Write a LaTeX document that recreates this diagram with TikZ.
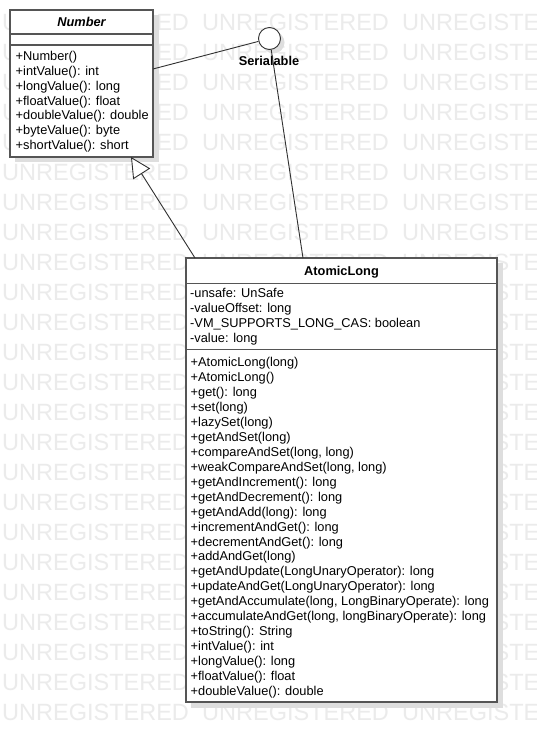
\documentclass[tikz,border=0pt]{standalone}
\usepackage{fontspec}
\setmainfont{Liberation Sans}
\usetikzlibrary{arrows.meta,calc}
\definecolor{wm}{HTML}{EBEBEB}
\definecolor{bord}{HTML}{555555}
\definecolor{shad}{HTML}{DEDEDE}
\definecolor{lnk}{HTML}{303030}
\newcommand\umlfont{\fontsize{12.8}{15}\selectfont}
\begin{document}
\begin{tikzpicture}[x=1pt,y=-1pt,
  wmark/.style={anchor=base west, inner sep=0pt, text=wm, font=\fontsize{23.5}{26}\selectfont},
  classbox/.style={draw=bord, line width=1.5pt, fill=white, rectangle, inner sep=0pt, outer sep=0pt, anchor=north west},
  sepline/.style={draw=bord, line width=1.5pt},
  member/.style={anchor=base west, inner sep=0pt, font=\umlfont},
  cname/.style={anchor=base, inner sep=0pt, font=\umlfont\bfseries},
  conn/.style={draw=lnk, line width=0.9pt},
  gen/.style={conn, -{Triangle[open, length=20pt, width=20pt, fill=white]}}
]
\useasboundingbox (0,0) rectangle (536,743);
% watermark
\begin{scope}
  \clip (0,0) rectangle (536,743);
  \fill[white] (0,0) rectangle (536,743);
  \foreach \k in {0,...,23}
    \foreach \xx in {2,202,402}
      \node[wmark] (w-\k-\xx) at (\xx, 31+29.96*\k) {UNREGISTERED};
\end{scope}
% shadows
\fill[shad] (15,15) rectangle (158.5,162);
\fill[shad] (191,263) rectangle (502.5,707.5);
\fill[shad] (273.5,42.5) circle (11pt);
% Number class
\node[classbox, minimum width=143pt, minimum height=147pt] (number) at (10,10) {};
\draw[sepline] (number.west |- 0,34) -- (number.east |- 0,34);
\draw[sepline] (number.west |- 0,45) -- (number.east |- 0,45);
\node[cname, font=\umlfont\bfseries\itshape] (numname) at (81.5,26.7) {Number};
\foreach \t [count=\i from 0] in {{+Number()},{+intValue(): int},{+longValue(): long},{+floatValue(): float},{+doubleValue(): double},{+byteValue(): byte},{+shortValue(): short}}
  \node[member] (nm\i) at (15.5, 61+14.67*\i) {\t};
% AtomicLong class
\node[classbox, minimum width=311pt, minimum height=444pt] (atomic) at (186,258) {};
\draw[sepline] (atomic.west |- 0,283.3) -- (atomic.east |- 0,283.3);
\draw[sepline] (atomic.west |- 0,349.3) -- (atomic.east |- 0,349.3);
\node[cname] (atname) at (341.5,275) {AtomicLong};
\foreach \t [count=\i from 0] in {{-unsafe: UnSafe},{-valueOffset: long},{-VM\_SUPPORTS\_LONG\_CAS: boolean},{-value: long}}
  \node[member] (aa\i) at (190, 297.5+15*\i) {\t};
\foreach \t [count=\i from 0] in {{+AtomicLong(long)},{+AtomicLong()},{+get(): long},{+set(long)},{+lazySet(long)},{+getAndSet(long)},{+compareAndSet(long, long)},{+weakCompareAndSet(long, long)},{+getAndIncrement(): long},{+getAndDecrement(): long},{+getAndAdd(long): long},{+incrementAndGet(): long},{+decrementAndGet(): long},{+addAndGet(long)},{+getAndUpdate(LongUnaryOperator): long},{+updateAndGet(LongUnaryOperator): long},{+getAndAccumulate(long, LongBinaryOperate): long},{+accumulateAndGet(long, longBinaryOperate): long},{+toString(): String},{+intValue(): int},{+longValue(): long},{+floatValue(): float},{+doubleValue(): double}}
  \node[member] (am\i) at (190.5, 366.5+14.96*\i) {\t};
% Serialable interface
\node[circle, draw=lnk, line width=0.9pt, fill=white, minimum size=22pt, inner sep=0pt] (ser) at (269.5,38.5) {};
\node[cname] (serlabel) at (269,65.7) {Serialable};
% connectors
\draw[conn] ($(number.north east)+(0,59)$) -- (ser);
\draw[conn] (ser) -- ($(atomic.north west)+(117,0)$);
\draw[gen] ($(atomic.north west)+(9,0)$) -- ($(number.south west)+(121,0)$);
\end{tikzpicture}
\end{document}
